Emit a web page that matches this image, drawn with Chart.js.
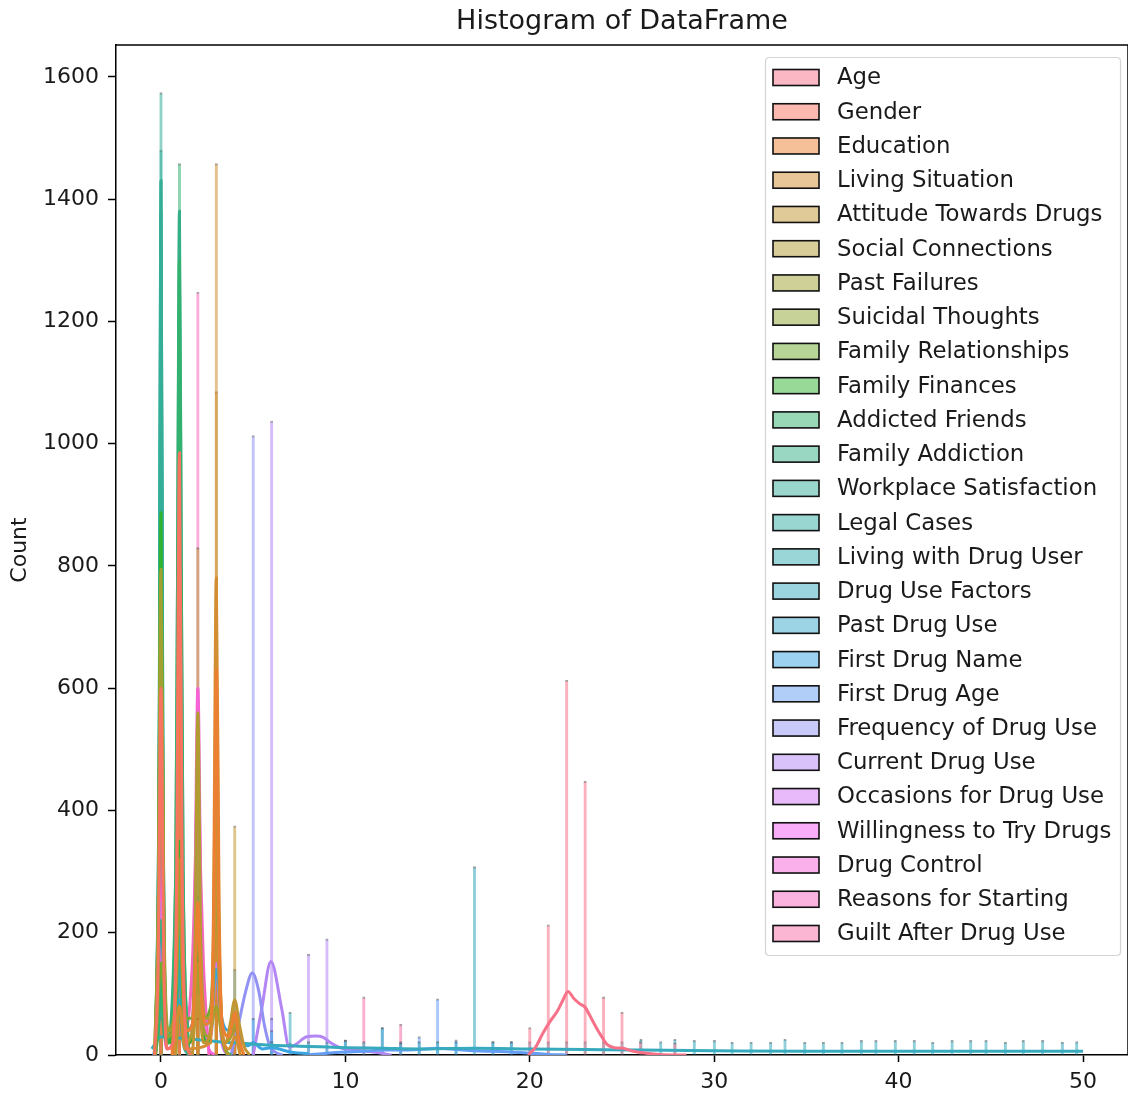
<!DOCTYPE html>
<html><head><meta charset="utf-8">
<script src="https://cdn.jsdelivr.net/npm/chart.js@4.4.1/dist/chart.umd.min.js"></script>
<style>html,body{margin:0;padding:0;background:#fff}canvas{display:block}</style>
</head><body>
<canvas id="c" width="1128" height="1095"></canvas>
<script>
// ---------------- DATA ----------------
const chartTitle = "Histogram of DataFrame";
const yAxisTitle = "Count";
const xTicks = [0, 10, 20, 30, 40, 50];
const yTicks = [0, 200, 400, 600, 800, 1000, 1200, 1400, 1600];
const xRange = [-2.44, 52.44];
const yRange = [0, 1652];

const seriesNames = ["Age","Gender","Education","Living Situation","Attitude Towards Drugs","Social Connections","Past Failures","Suicidal Thoughts","Family Relationships","Family Finances","Addicted Friends","Family Addiction","Workplace Satisfaction","Legal Cases","Living with Drug User","Drug Use Factors","Past Drug Use","First Drug Name","First Drug Age","Frequency of Drug Use","Current Drug Use","Occasions for Drug Use","Willingness to Try Drugs","Drug Control","Reasons for Starting","Guilt After Drug Use"];

// histogram bars: [value, count]
const histAge = [[20,45],[21,213],[22,613],[23,448],[24,95],[25,70],[26,22],[27.87,20]];
const histGender = [[0,620],[1,985]];
const histEducation = [[0,60],[1,800],[2,200],[3,630],[4,60]];
const histLivingSituation = [[1,120],[2,60],[3,1458],[4,40]];
const histAttitude = [[0,60],[1,90],[2,150],[3,1085],[4,375]];
const histSocial = [[1,120],[2,830],[3,780]];
const histPastFailures = [[0,794],[1,500],[2,250],[3,120],[4,90]];
const histSuicidal = [[0,1200],[1,460]];
const histFamilyRel = [[0,240],[1,620],[2,420],[3,380]];
const histFamilyFin = [[0,887],[1,350],[2,200],[3,370]];
const histAddictedFriends = [[0,200],[1,1458]];
const histFamilyAddiction = [[0,280],[1,1380]];
const histWorkplace = [[0,1574],[1,90]];
const histLegal = [[0,1480],[1,180]];
const histLivingDU = [[0,1430],[1,230]];
const histDrugFactors = [[0,25],[1,22],[2,22],[3,24],[4,22],[5,22],[6,22],[7,70],[8,22],[9,22],[10,24],[11,22],[12,45],[13,20],[14,22],[15,22],[16,22],[17,308],[18,22],[19,22],[20,22],[21,22],[22,22],[23,22],[24,22],[25,22],[26.03,26],[27.1,22],[27.87,26],[28.92,24],[30.01,24],[30.97,21],[32.0,21],[33.06,21],[33.84,26],[34.91,21],[35.92,21],[36.93,21],[37.98,24],[38.77,24],[39.82,24],[40.85,24],[41.85,21],[42.9,24],[43.91,24],[44.74,24],[45.79,21],[46.76,24],[47.81,24],[48.88,21],[49.66,22]];
const histPastDrug = [[0,1350],[1,310]];
const histFirstDrugName = [[0,350],[1,200],[2,260],[3,300],[4,140],[5,60],[6,40]];
const histFirstDrugAge = [[10,25],[12,45],[13,22],[14,30],[15,92],[16,25],[18,22],[19,22]];
const histFrequency = [[4,60],[5,1013],[6,60]];
const histCurrent = [[6,1037],[7,20],[8,165],[9,190]];
const histOccasions = [[0,300],[1,350],[2,250],[3,200]];
const histWillingness = [[0,400],[1,220]];
const histDrugControl = [[0,100],[1,150],[2,600]];
const histReasons = [[0,150],[1,200],[2,1248]];
const histGuilt = [[0,220],[1,150],[11,95],[13,50]];

// kde curves: [x, count]
const kdeAge = [[19.9,0],[20.3,12],[20.7,35],[21.1,55],[21.5,72],[21.8,90],[22.07,104],[22.4,92],[22.7,84],[23.0,78],[23.3,62],[23.6,45],[23.9,30],[24.2,17],[24.6,12],[25.05,11],[25.5,7],[26,4],[27,1],[28.5,0]];
const kdeGender = [[-0.35,0],[-0.15,150],[0,600],[0.15,150],[0.35,10],[0.65,20],[0.85,300],[1,985],[1.15,300],[1.35,30],[1.6,0]];
const kdeEducation = [[0.6,0],[0.85,200],[1,820],[1.15,200],[1.4,40],[1.7,50],[1.85,120],[2,250],[2.15,120],[2.4,50],[2.7,60],[2.85,200],[3,630],[3.15,200],[3.4,40],[3.7,30],[3.85,50],[4,70],[4.2,30],[4.5,0]];
const kdeLivingSituation = [[0.7,0],[1,80],[1.3,10],[2.7,20],[2.85,250],[3,780],[3.15,250],[3.35,30],[3.7,10],[4,30],[4.3,0]];
const kdeAttitude = [[1.7,0],[2,100],[2.3,20],[2.7,40],[2.85,120],[3,360],[3.15,120],[3.5,20],[3.75,50],[4,90],[4.25,50],[4.5,15],[4.8,0]];
const kdeSocial = [[0.8,0],[1,80],[1.3,20],[1.7,40],[1.85,200],[2,560],[2.15,200],[2.4,60],[2.7,60],[2.85,180],[3,500],[3.15,180],[3.4,20],[3.7,0]];
const kdePastFailures = [[-0.35,0],[-0.15,250],[0,794],[0.15,250],[0.4,40],[0.7,60],[0.85,150],[1,320],[1.15,150],[1.4,40],[1.8,60],[2,150],[2.2,60],[2.6,30],[3,80],[3.4,20],[3.8,30],[4,50],[4.3,0]];
const kdeSuicidal = [[-0.35,0],[-0.15,220],[0,700],[0.15,220],[0.4,30],[0.7,60],[0.85,130],[1,300],[1.15,130],[1.4,20],[1.6,0]];
const kdeFamilyRel = [[-0.3,0],[0,150],[0.3,40],[0.7,60],[1,300],[1.3,60],[1.7,60],[2,200],[2.3,60],[2.7,80],[3,250],[3.3,40],[3.6,0]];
const kdeFamilyFin = [[-0.3,0],[-0.15,200],[0,887],[0.15,200],[0.4,20],[0.8,90],[1,350],[1.2,90],[1.5,20],[1.8,60],[2,200],[2.2,60],[2.5,20],[2.8,100],[3,370],[3.2,100],[3.5,10],[3.8,0]];
const kdeAddictedFriends = [[-0.3,0],[-0.1,60],[0,150],[0.1,60],[0.4,20],[0.8,300],[0.9,800],[1,1300],[1.1,800],[1.2,300],[1.5,0]];
const kdeFamilyAddiction = [[-0.3,0],[0,220],[0.3,20],[0.8,300],[0.9,800],[1,1380],[1.1,800],[1.2,300],[1.5,0]];
const kdeWorkplace = [[-0.3,0],[-0.1,500],[0,1430],[0.1,500],[0.3,20],[0.8,20],[1,80],[1.2,20],[1.5,0]];
const kdeLegal = [[-0.3,0],[-0.1,500],[0,1380],[0.1,500],[0.3,20],[0.8,30],[1,150],[1.2,30],[1.5,0]];
const kdeLivingDU = [[-0.3,0],[-0.1,450],[0,1300],[0.1,450],[0.3,30],[0.8,40],[1,200],[1.2,40],[1.5,0]];
const kdeDrugFactors = [[-0.5,10],[0,30],[1,28],[2,25],[3,22],[4,20],[5,18],[6,16],[7,15],[8,14],[10,12],[12,11],[14,10],[17,11],[20,10],[23,9],[26,8],[30,7],[35,6],[40,6],[45,6],[50,6]];
const kdePastDrug = [[-0.3,0],[-0.1,400],[0,1200],[0.1,400],[0.3,30],[0.8,60],[1,280],[1.2,60],[1.5,0]];
const kdeFirstDrugName = [[-0.4,0],[-0.2,30],[0,80],[0.3,30],[0.7,40],[1,90],[1.3,40],[1.7,50],[2,100],[2.3,50],[2.7,60],[3,140],[3.3,60],[3.7,40],[4,70],[4.3,30],[4.7,15],[5,20],[5.5,10],[6,12],[7,5],[8,2]];
const kdeFirstDrugAge = [[8,0],[9,3],[10,5],[11,6],[12,8],[13,8],[14,9],[15,11],[16,9],[17,7],[18,6],[19,5],[20,3],[21,1],[22,0]];
const kdeFrequency = [[3.8,0],[4.2,50],[4.6,105],[4.95,134],[5.3,105],[5.6,50],[5.9,15],[6.3,3],[6.6,0]];
const kdeCurrent = [[5.0,0],[5.46,75],[5.96,153],[6.55,75],[6.95,13],[7.3,17],[7.9,30],[8.4,31],[8.8,29],[9.2,20],[9.7,12],[10.5,8],[11.5,5],[12.5,0]];
const kdeOccasions = [[-0.3,0],[0,250],[0.3,40],[0.7,50],[1,280],[1.3,50],[1.7,40],[2,200],[2.3,40],[2.7,30],[3,150],[3.3,20],[3.7,0]];
const kdeWillingness = [[-0.3,0],[-0.1,150],[0,400],[0.1,150],[0.3,20],[0.8,40],[1,200],[1.2,40],[1.5,0]];
const kdeDrugControl = [[-0.3,0],[0,100],[0.3,10],[0.8,40],[1,150],[1.2,40],[1.6,20],[1.8,150],[2,600],[2.2,150],[2.5,20],[2.9,0]];
const kdeReasons = [[-0.3,0],[0,120],[0.3,20],[0.7,40],[1,170],[1.3,40],[1.7,150],[1.85,300],[2,480],[2.15,300],[2.3,150],[2.6,0]];
const kdeGuilt = [[-0.3,0],[0,200],[0.3,30],[0.7,30],[1,140],[1.3,30],[1.7,0]];

const histSeries = [histAge,histGender,histEducation,histLivingSituation,histAttitude,histSocial,histPastFailures,histSuicidal,histFamilyRel,histFamilyFin,histAddictedFriends,histFamilyAddiction,histWorkplace,histLegal,histLivingDU,histDrugFactors,histPastDrug,histFirstDrugName,histFirstDrugAge,histFrequency,histCurrent,histOccasions,histWillingness,histDrugControl,histReasons,histGuilt];
const kdeSeries = [kdeAge,kdeGender,kdeEducation,kdeLivingSituation,kdeAttitude,kdeSocial,kdePastFailures,kdeSuicidal,kdeFamilyRel,kdeFamilyFin,kdeAddictedFriends,kdeFamilyAddiction,kdeWorkplace,kdeLegal,kdeLivingDU,kdeDrugFactors,kdePastDrug,kdeFirstDrugName,kdeFirstDrugAge,kdeFrequency,kdeCurrent,kdeOccasions,kdeWillingness,kdeDrugControl,kdeReasons,kdeGuilt];

// ---------------- HUSL palette (seaborn style) ----------------
const M = [[3.2406,-1.5372,-0.4986],[-0.9689,1.8758,0.0415],[0.0557,-0.2040,1.0570]];
const refU = 0.19784, refV = 0.46834, labE = 0.008856, labK = 903.3;
function maxChroma(L, H) {
  const hr = H * Math.PI / 180, sinH = Math.sin(hr), cosH = Math.cos(hr);
  const sub1 = Math.pow(L + 16, 3) / 1560896;
  const sub2 = sub1 > 0.008856 ? sub1 : L / 903.3;
  let res = Infinity;
  for (const [m1, m2, m3] of M) {
    const top = (0.99915*m1 + 1.05122*m2 + 1.14460*m3) * sub2;
    const rb = 0.86330*m3 - 0.17266*m2;
    const lb = 0.12949*m3 - 0.38848*m1;
    const bottom = (rb*sinH + lb*cosH) * sub2;
    for (const t of [0, 1]) {
      const C = L * (top - 1.05122*t) / (bottom + 0.17266*sinH*t);
      if (C > 0 && C < res) res = C;
    }
  }
  return res;
}
function huslToRgb(H, S, L) {
  const C = maxChroma(L, H) / 100 * S;
  const hr = H * Math.PI / 180;
  const U = Math.cos(hr) * C, V = Math.sin(hr) * C;
  const t = (L + 16) / 116;
  const Y = Math.pow(t,3) > labE ? Math.pow(t,3) : (116*t - 16) / labK;
  const vU = U / (13*L) + refU, vV = V / (13*L) + refV;
  const X = -(9*Y*vU) / ((vU - 4)*vV - vU*vV);
  const Z = (9*Y - 15*vV*Y - vV*X) / (3*vV);
  return M.map(r => {
    let c = r[0]*X + r[1]*Y + r[2]*Z;
    c = c <= 0.0031308 ? 12.92*c : 1.055*Math.pow(c, 1/2.4) - 0.055;
    return Math.round(Math.max(0, Math.min(1, c)) * 255);
  });
}
const nS = seriesNames.length;
const palette = seriesNames.map((_, i) => huslToRgb(((i/nS + 0.01) % 1) * 359, 0.9*99, 0.65*99));
const rgba = (c, a) => `rgba(${c[0]},${c[1]},${c[2]},${a})`;

// ---------------- CHART ----------------
const toXY = arr => arr.map(p => ({x: p[0], y: p[1]}));
const datasets = [];
seriesNames.forEach((name, i) => {
  datasets.push({
    type: 'bar', label: name, data: toXY(histSeries[i]),
    backgroundColor: rgba(palette[i], 0.55),
    borderColor: 'rgba(50,50,50,0.45)', borderWidth: {top: 1.5, left: 0, right: 0, bottom: 0},
    borderSkipped: 'bottom',
    barThickness: 3, grouped: false, order: 2
  });
});
seriesNames.forEach((name, i) => {
  datasets.push({
    type: 'line', label: name + ' kde', data: toXY(kdeSeries[i]),
    borderColor: rgba(palette[i], 1), borderWidth: 3, pointRadius: 0,
    fill: false, cubicInterpolationMode: 'monotone', order: 1
  });
});

const FONT = 'DejaVu Sans';
const decor = {
  id: 'decor',
  afterDraw(chart) {
    const ctx = chart.ctx, a = chart.chartArea;
    ctx.save();
    // top & right spines
    ctx.strokeStyle = '#000'; ctx.lineWidth = 1.5;
    ctx.beginPath(); ctx.moveTo(a.left, a.top); ctx.lineTo(a.right, a.top); ctx.lineTo(a.right, a.bottom); ctx.stroke();
    // title
    ctx.fillStyle = '#1a1a1a'; ctx.font = `27px "${FONT}"`;
    ctx.textAlign = 'center'; ctx.textBaseline = 'middle';
    ctx.fillText(chartTitle, (a.left + a.right) / 2, 22);
    // y title
    ctx.save(); ctx.translate(20, (a.top + a.bottom) / 2 + 0); ctx.rotate(-Math.PI/2);
    ctx.font = `22px "${FONT}"`; ctx.fillText(yAxisTitle, 0, 0); ctx.restore();
    // legend
    const lx = 765.5, ly = 57.5, lw = 355, lh = 898, r = 4;
    ctx.beginPath();
    ctx.moveTo(lx + r, ly); ctx.lineTo(lx + lw - r, ly); ctx.quadraticCurveTo(lx + lw, ly, lx + lw, ly + r);
    ctx.lineTo(lx + lw, ly + lh - r); ctx.quadraticCurveTo(lx + lw, ly + lh, lx + lw - r, ly + lh);
    ctx.lineTo(lx + r, ly + lh); ctx.quadraticCurveTo(lx, ly + lh, lx, ly + lh - r);
    ctx.lineTo(lx, ly + r); ctx.quadraticCurveTo(lx, ly, lx + r, ly); ctx.closePath();
    ctx.fillStyle = 'rgba(255,255,255,0.8)'; ctx.fill();
    ctx.strokeStyle = '#d4d4d4'; ctx.lineWidth = 1.2; ctx.stroke();
    ctx.font = `22.8px "${FONT}"`; ctx.textAlign = 'left'; ctx.textBaseline = 'middle';
    seriesNames.forEach((name, i) => {
      const cy = 77.5 + i * 34.24;
      ctx.fillStyle = '#fff'; ctx.fillRect(773, cy - 8, 46, 16);
      ctx.fillStyle = rgba(palette[i], 0.5); ctx.fillRect(773, cy - 8, 46, 16);
      ctx.strokeStyle = '#111'; ctx.lineWidth = 1.6; ctx.strokeRect(773, cy - 8, 46, 16);
      ctx.fillStyle = '#1a1a1a'; ctx.fillText(name, 837, cy + 1);
    });
    ctx.restore();
  }
};

new Chart(document.getElementById('c'), {
  type: 'bar',
  data: { datasets },
  options: {
    responsive: false, animation: false, devicePixelRatio: 1,
    layout: { padding: { top: 45, right: 0, bottom: 0, left: 0 } },
    plugins: { legend: { display: false }, tooltip: { enabled: false }, title: { display: false } },
    scales: {
      x: {
        type: 'linear', min: xRange[0], max: xRange[1], offset: false,
        grid: { display: true, drawOnChartArea: false, drawTicks: true, tickLength: 7, tickColor: '#000', tickWidth: 1.5, offset: false },
        border: { display: true, color: '#000', width: 1.5 },
        ticks: { font: { family: FONT, size: 22 }, color: '#1a1a1a', padding: 7, maxRotation: 0, callback: v => String(v) },
        afterBuildTicks: s => { s.ticks = xTicks.map(v => ({ value: v })); },
        afterFit: s => { s.height = 40; }
      },
      y: {
        type: 'linear', min: yRange[0], max: yRange[1],
        grid: { display: true, drawOnChartArea: false, drawTicks: true, tickLength: 8, tickColor: '#000', tickWidth: 1.5 },
        border: { display: true, color: '#000', width: 1.5 },
        ticks: { font: { family: FONT, size: 22 }, color: '#1a1a1a', padding: 9, callback: v => String(v) },
        afterBuildTicks: s => { s.ticks = yTicks.map(v => ({ value: v })); },
        afterFit: s => { s.width = 116; }
      }
    }
  },
  plugins: [decor]
});
</script>
</body></html>
